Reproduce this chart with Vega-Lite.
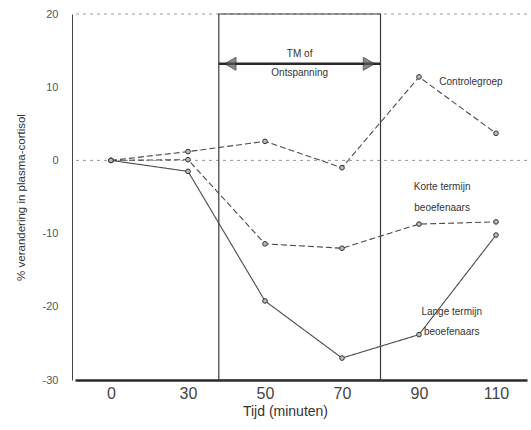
{
  "$schema": "https://vega.github.io/schema/vega-lite/v6.json",
  "width": 455,
  "height": 366,
  "autosize": "none",
  "padding": {"left": 72, "top": 14, "right": 4, "bottom": 50},
  "background": "white",
  "config": {
    "view": {"stroke": null},
    "font": "Liberation Sans"
  },
  "datasets": {
    "series": [
      {"tijd": 0, "groep": "Controlegroep", "waarde": 0},
      {"tijd": 30, "groep": "Controlegroep", "waarde": 1.2},
      {"tijd": 50, "groep": "Controlegroep", "waarde": 2.6},
      {"tijd": 70, "groep": "Controlegroep", "waarde": -1.0},
      {"tijd": 90, "groep": "Controlegroep", "waarde": 11.4},
      {"tijd": 110, "groep": "Controlegroep", "waarde": 3.7},
      {"tijd": 0, "groep": "Korte termijn", "waarde": 0},
      {"tijd": 30, "groep": "Korte termijn", "waarde": 0.1},
      {"tijd": 50, "groep": "Korte termijn", "waarde": -11.4},
      {"tijd": 70, "groep": "Korte termijn", "waarde": -12.0},
      {"tijd": 90, "groep": "Korte termijn", "waarde": -8.7},
      {"tijd": 110, "groep": "Korte termijn", "waarde": -8.4},
      {"tijd": 0, "groep": "Lange termijn", "waarde": 0},
      {"tijd": 30, "groep": "Lange termijn", "waarde": -1.5},
      {"tijd": 50, "groep": "Lange termijn", "waarde": -19.2},
      {"tijd": 70, "groep": "Lange termijn", "waarde": -27.0},
      {"tijd": 90, "groep": "Lange termijn", "waarde": -23.8},
      {"tijd": 110, "groep": "Lange termijn", "waarde": -10.2}
    ],
    "periode": [{"start": 38, "eind": 80, "boven": 20, "onder": -30, "pijl": 13.2}],
    "hulplijnen": [{"y": 0}, {"y": 20}],
    "pijlpunten": [
      {"tijd": 41, "waarde": 13.2, "vorm": "triangle-left"},
      {"tijd": 77, "waarde": 13.2, "vorm": "triangle-right"}
    ],
    "labels": [
      {"tijd": 59, "waarde": 14.5, "tekst": "TM of"},
      {"tijd": 59, "waarde": 11.9, "tekst": "Ontspanning"},
      {"tijd": 103.5, "waarde": 10.7, "tekst": "Controlegroep"},
      {"tijd": 96, "waarde": -3.6, "tekst": "Korte termijn"},
      {"tijd": 96, "waarde": -6.5, "tekst": "beoefenaars"},
      {"tijd": 98.5, "waarde": -20.7, "tekst": "Lange termijn"},
      {"tijd": 98.5, "waarde": -23.5, "tekst": "beoefenaars"}
    ]
  },
  "layer": [
    {
      "data": {"name": "hulplijnen"},
      "mark": {"type": "rule", "stroke": "#9a9a9a", "strokeDash": [3, 4], "strokeWidth": 1},
      "encoding": {
        "y": {"field": "y", "type": "quantitative", "scale": {"domain": [-30, 20]}}
      }
    },
    {
      "data": {"name": "periode"},
      "mark": {"type": "rect", "fill": null, "fillOpacity": 0, "stroke": "#3a3a3a", "strokeWidth": 1.2},
      "encoding": {
        "x": {"field": "start", "type": "quantitative"},
        "x2": {"field": "eind"},
        "y": {"field": "boven", "type": "quantitative"},
        "y2": {"field": "onder"}
      }
    },
    {
      "data": {"name": "periode"},
      "mark": {"type": "rule", "stroke": "#2a2a2a", "strokeWidth": 2.5},
      "encoding": {
        "x": {"field": "start", "type": "quantitative"},
        "x2": {"field": "eind"},
        "y": {"field": "pijl", "type": "quantitative"}
      }
    },
    {
      "data": {"name": "pijlpunten"},
      "mark": {"type": "point", "filled": true, "size": 170, "color": "#555555", "stroke": "#222222", "strokeWidth": 1},
      "encoding": {
        "x": {"field": "tijd", "type": "quantitative"},
        "y": {"field": "waarde", "type": "quantitative"},
        "shape": {"field": "vorm", "type": "nominal", "scale": null, "legend": null}
      }
    },
    {
      "data": {"name": "series"},
      "mark": {"type": "line", "stroke": "#4a4a4a", "strokeWidth": 1.1},
      "encoding": {
        "x": {
          "field": "tijd",
          "type": "quantitative",
          "scale": {"domain": [-14, 0, 30, 110, 118], "range": [3, 39, 116, 424, 455]},
          "axis": {
            "values": [0, 30, 50, 70, 90, 110],
            "title": "Tijd (minuten)",
            "grid": false,
            "ticks": false,
            "domainColor": "#2a2a2a",
            "domainWidth": 2.5,
            "labelFontSize": 16,
            "labelColor": "#444444",
            "labelPadding": 5,
            "titleFontSize": 14,
            "titleFontWeight": "normal",
            "titleColor": "#333333",
            "titlePadding": 3,
            "titleX": 213,
            "titleAnchor": "middle"
          }
        },
        "y": {
          "field": "waarde",
          "type": "quantitative",
          "scale": {"domain": [-30, 20], "nice": false},
          "axis": {
            "values": [-30, -20, -10, 0, 10, 20],
            "labelExpr": "'' + datum.value",
            "title": "% verandering in plasma-cortisol",
            "grid": false,
            "ticks": false,
            "domainColor": "#444444",
            "domainWidth": 1,
            "labelFontSize": 11,
            "labelColor": "#555555",
            "labelPadding": 14,
            "titleFontSize": 11.5,
            "titleFontWeight": "normal",
            "titleColor": "#333333",
            "titlePadding": 16
          }
        },
        "detail": {"field": "groep", "type": "nominal"},
        "strokeDash": {
          "field": "groep",
          "type": "nominal",
          "scale": {"domain": ["Controlegroep", "Korte termijn", "Lange termijn"], "range": [[6, 3], [6, 3], [1, 0]]},
          "legend": null
        }
      }
    },
    {
      "data": {"name": "series"},
      "mark": {"type": "point", "size": 22, "filled": true, "fill": "#bbbbbb", "stroke": "#333333", "strokeWidth": 1, "opacity": 1},
      "encoding": {
        "x": {"field": "tijd", "type": "quantitative"},
        "y": {"field": "waarde", "type": "quantitative"}
      }
    },
    {
      "data": {"name": "labels"},
      "mark": {"type": "text", "fontSize": 10, "color": "#333333", "align": "center", "baseline": "middle"},
      "encoding": {
        "x": {"field": "tijd", "type": "quantitative"},
        "y": {"field": "waarde", "type": "quantitative"},
        "text": {"field": "tekst", "type": "nominal"}
      }
    }
  ]
}
